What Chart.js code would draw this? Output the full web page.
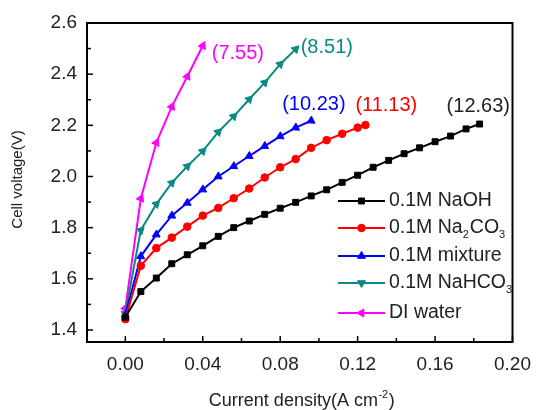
<!DOCTYPE html>
<html><head><meta charset="utf-8">
<script src="https://cdn.jsdelivr.net/npm/chart.js@4.4.0/dist/chart.umd.min.js"></script>
<style>html,body{margin:0;padding:0;background:#fff;}</style>
</head><body>
<canvas id="c" width="542" height="410" style="display:block;width:542px;height:410px"></canvas>
<script>
// ---- data ----
const naohX = [0, 0.008, 0.016, 0.024, 0.032, 0.040, 0.048, 0.056, 0.064, 0.072, 0.080, 0.088, 0.096, 0.104, 0.112, 0.120, 0.128, 0.136, 0.144, 0.152, 0.160, 0.168, 0.176, 0.183];
const naohY = [1.45, 1.55, 1.603, 1.659, 1.694, 1.729, 1.766, 1.80, 1.826, 1.852, 1.876, 1.899, 1.924, 1.948, 1.977, 2.005, 2.036, 2.063, 2.089, 2.112, 2.136, 2.158, 2.186, 2.205];
const na2co3X = [0, 0.008, 0.016, 0.024, 0.032, 0.040, 0.048, 0.056, 0.064, 0.072, 0.080, 0.088, 0.096, 0.104, 0.112, 0.120, 0.124];
const na2co3Y = [1.442, 1.651, 1.72, 1.761, 1.804, 1.847, 1.877, 1.915, 1.953, 1.996, 2.036, 2.068, 2.112, 2.142, 2.167, 2.191, 2.201];
const mixX = [0, 0.008, 0.016, 0.024, 0.032, 0.040, 0.048, 0.056, 0.064, 0.072, 0.080, 0.088, 0.096];
const mixY = [1.459, 1.688, 1.773, 1.847, 1.897, 1.949, 2.0, 2.04, 2.08, 2.119, 2.157, 2.191, 2.218];
const nahco3X = [0, 0.008, 0.016, 0.024, 0.032, 0.040, 0.048, 0.056, 0.064, 0.072, 0.080, 0.088];
const nahco3Y = [1.467, 1.79, 1.892, 1.975, 2.04, 2.099, 2.174, 2.235, 2.302, 2.367, 2.439, 2.498];
const diX = [0, 0.008, 0.016, 0.024, 0.032, 0.040];
const diY = [1.485, 1.914, 2.132, 2.273, 2.391, 2.511];

const xTicks = [0.00, 0.04, 0.08, 0.12, 0.16, 0.20];
const yTicks = [1.4, 1.6, 1.8, 2.0, 2.2, 2.4, 2.6];
const xMinorTicks = [0.02, 0.06, 0.10, 0.14, 0.18];
const yMinorTicks = [1.5, 1.7, 1.9, 2.1, 2.3, 2.5];
const endLabels = ['(12.63)', '(11.13)', '(10.23)', '(8.51)', '(7.55)'];
const yTitle = 'Cell voltage(V)';
const xTitleMain = 'Current density(A cm';
const xTitleSup = '-2';
const xTitleEnd = ')';

// ---- styling ----
const FONT = "'Liberation Sans', Arial, sans-serif";
Chart.defaults.font.family = FONT;
const colors = ['#000000', '#ff0000', '#0000ff', '#0a8a80', '#ff00ff'];
const styles = [
  {pointStyle: 'rect', radius: 4.2, rotation: 0},
  {pointStyle: 'circle', radius: 3.8, rotation: 0},
  {pointStyle: 'triangle', radius: 4.6, rotation: 243},
  {pointStyle: 'triangle', radius: 4.6, rotation: 45},
  {pointStyle: 'triangle', radius: 4.6, rotation: 25}
];
const legendStyles = [
  {pointStyle: 'rect', radius: 4.2, rotation: 0},
  {pointStyle: 'circle', radius: 3.8, rotation: 0},
  {pointStyle: 'triangle', radius: 4.6, rotation: 0},
  {pointStyle: 'triangle', radius: 4.6, rotation: 180},
  {pointStyle: 'triangle', radius: 4.6, rotation: 270}
];
// legend text parts: [text, isSubscript]
const legendTexts = [
  [['0.1M NaOH', false]],
  [['0.1M Na', false], ['2', true], ['CO', false], ['3', true]],
  [['0.1M mixture', false]],
  [['0.1M NaHCO', false], ['3', true]],
  [['DI water', false]]
];
// label offsets (px) from each series end point: [dx, dy]
const labelOffsets = [[-33, -18], [-10, -20], [-29, -16], [5, -2], [9, 8]];

const seriesX = [naohX, na2co3X, mixX, nahco3X, diX];
const seriesY = [naohY, na2co3Y, mixY, nahco3Y, diY];
const names = ['0.1M NaOH', '0.1M Na2CO3', '0.1M mixture', '0.1M NaHCO3', 'DI water'];

const datasets = seriesX.map((xs, i) => ({
  label: names[i],
  data: xs.map((v, k) => ({x: v, y: seriesY[i][k]})),
  borderColor: colors[i],
  backgroundColor: colors[i],
  pointBackgroundColor: colors[i],
  pointBorderColor: colors[i],
  borderWidth: 2,
  pointStyle: styles[i].pointStyle,
  pointRadius: styles[i].radius,
  pointRotation: styles[i].rotation,
  pointBorderWidth: 1,
  tension: 0,
  fill: false
}));

function line(ctx, x1, y1, x2, y2) {
  ctx.beginPath(); ctx.moveTo(x1, y1); ctx.lineTo(x2, y2); ctx.stroke();
}

const deco = {
  id: 'deco',
  afterDraw(chart) {
    const ctx = chart.ctx, a = chart.chartArea, xs = chart.scales.x, ys = chart.scales.y;
    ctx.save();
    // frame
    ctx.strokeStyle = '#000'; ctx.lineWidth = 2;
    ctx.strokeRect(a.left, a.top, a.right - a.left, a.bottom - a.top);
    // inward ticks
    ctx.lineWidth = 1.5;
    xTicks.forEach(v => { const p = xs.getPixelForValue(v); line(ctx, p, a.bottom, p, a.bottom - 6); });
    xMinorTicks.forEach(v => { const p = xs.getPixelForValue(v); line(ctx, p, a.bottom, p, a.bottom - 4); });
    yTicks.forEach(v => { const p = ys.getPixelForValue(v); line(ctx, a.left, p, a.left + 6, p); });
    yMinorTicks.forEach(v => { const p = ys.getPixelForValue(v); line(ctx, a.left, p, a.left + 4, p); });

    // y title
    ctx.fillStyle = '#222';
    ctx.font = '15px ' + FONT;
    ctx.save();
    ctx.translate(18, (a.top + a.bottom) / 2 - 3);
    ctx.rotate(-Math.PI / 2);
    ctx.textAlign = 'center'; ctx.textBaseline = 'middle';
    ctx.fillText(yTitle, 0, 0);
    ctx.restore();

    // x title with superscript
    const mainF = '18px ' + FONT, supF = '11px ' + FONT;
    ctx.font = mainF; const w1 = ctx.measureText(xTitleMain).width, w3 = ctx.measureText(xTitleEnd).width;
    ctx.font = supF; const w2 = ctx.measureText(xTitleSup).width;
    let tx = (a.left + a.right) / 2 - (w1 + w2 + w3 + 1) / 2 + 2;
    const base = 406;
    ctx.textAlign = 'left'; ctx.textBaseline = 'alphabetic';
    ctx.font = mainF; ctx.fillText(xTitleMain, tx, base); tx += w1;
    ctx.font = supF; ctx.fillText(xTitleSup, tx + 0.5, base - 8); tx += w2 + 1;
    ctx.font = mainF; ctx.fillText(xTitleEnd, tx, base);

    // end labels
    ctx.font = '20px ' + FONT;
    ctx.textBaseline = 'middle'; ctx.textAlign = 'left';
    chart.data.datasets.forEach((ds, i) => {
      const meta = chart.getDatasetMeta(i);
      const last = meta.data[meta.data.length - 1];
      ctx.fillStyle = i === 0 ? '#222' : colors[i];
      ctx.fillText(endLabels[i], last.x + labelOffsets[i][0], last.y + labelOffsets[i][1]);
    });

    // legend
    const lx1 = 338, lx2 = 385, ltx = 389;
    const rowY = [201, 228, 256, 283, 313];
    legendTexts.forEach((parts, i) => {
      const yy = rowY[i];
      ctx.strokeStyle = colors[i]; ctx.fillStyle = colors[i]; ctx.lineWidth = 2;
      line(ctx, lx1, yy, lx2, yy);
      ctx.lineWidth = 1;
      Chart.helpers.drawPoint(ctx, {pointStyle: legendStyles[i].pointStyle, radius: legendStyles[i].radius, rotation: legendStyles[i].rotation, borderWidth: 1}, (lx1 + lx2) / 2, yy);
      ctx.fillStyle = '#222'; ctx.textBaseline = 'middle';
      let px = ltx;
      parts.forEach(([t, sub]) => {
        ctx.font = (sub ? '11px ' : '19.5px ') + FONT;
        ctx.fillText(t, px, yy + (sub ? 7 : 0));
        px += ctx.measureText(t).width + (sub ? 1 : 0);
      });
    });
    ctx.restore();
  }
};

new Chart(document.getElementById('c'), {
  type: 'line',
  data: {datasets},
  options: {
    responsive: false,
    animation: false,
    devicePixelRatio: 1,
    layout: {padding: {top: 23, right: 20, left: 0, bottom: 0}},
    plugins: {legend: {display: false}, tooltip: {enabled: false}},
    scales: {
      x: {
        type: 'linear', min: -0.0198, max: 0.2,
        grid: {display: false, drawTicks: false},
        border: {display: false},
        afterBuildTicks: s => { s.ticks = xTicks.map(v => ({value: v})); },
        afterFit: s => { s.height = 68; },
        ticks: {autoSkip: false, maxRotation: 0, padding: 11, color: '#222', font: {size: 19}, callback: v => Number(v).toFixed(2)}
      },
      y: {
        type: 'linear', min: 1.353, max: 2.6,
        grid: {display: false, drawTicks: false},
        border: {display: false},
        afterBuildTicks: s => { s.ticks = yTicks.map(v => ({value: v})); },
        afterFit: s => { s.width = 87; },
        ticks: {autoSkip: false, padding: 10, color: '#222', font: {size: 19}, callback: v => Number(v).toFixed(1)}
      }
    }
  },
  plugins: [deco]
});
</script>
</body></html>
